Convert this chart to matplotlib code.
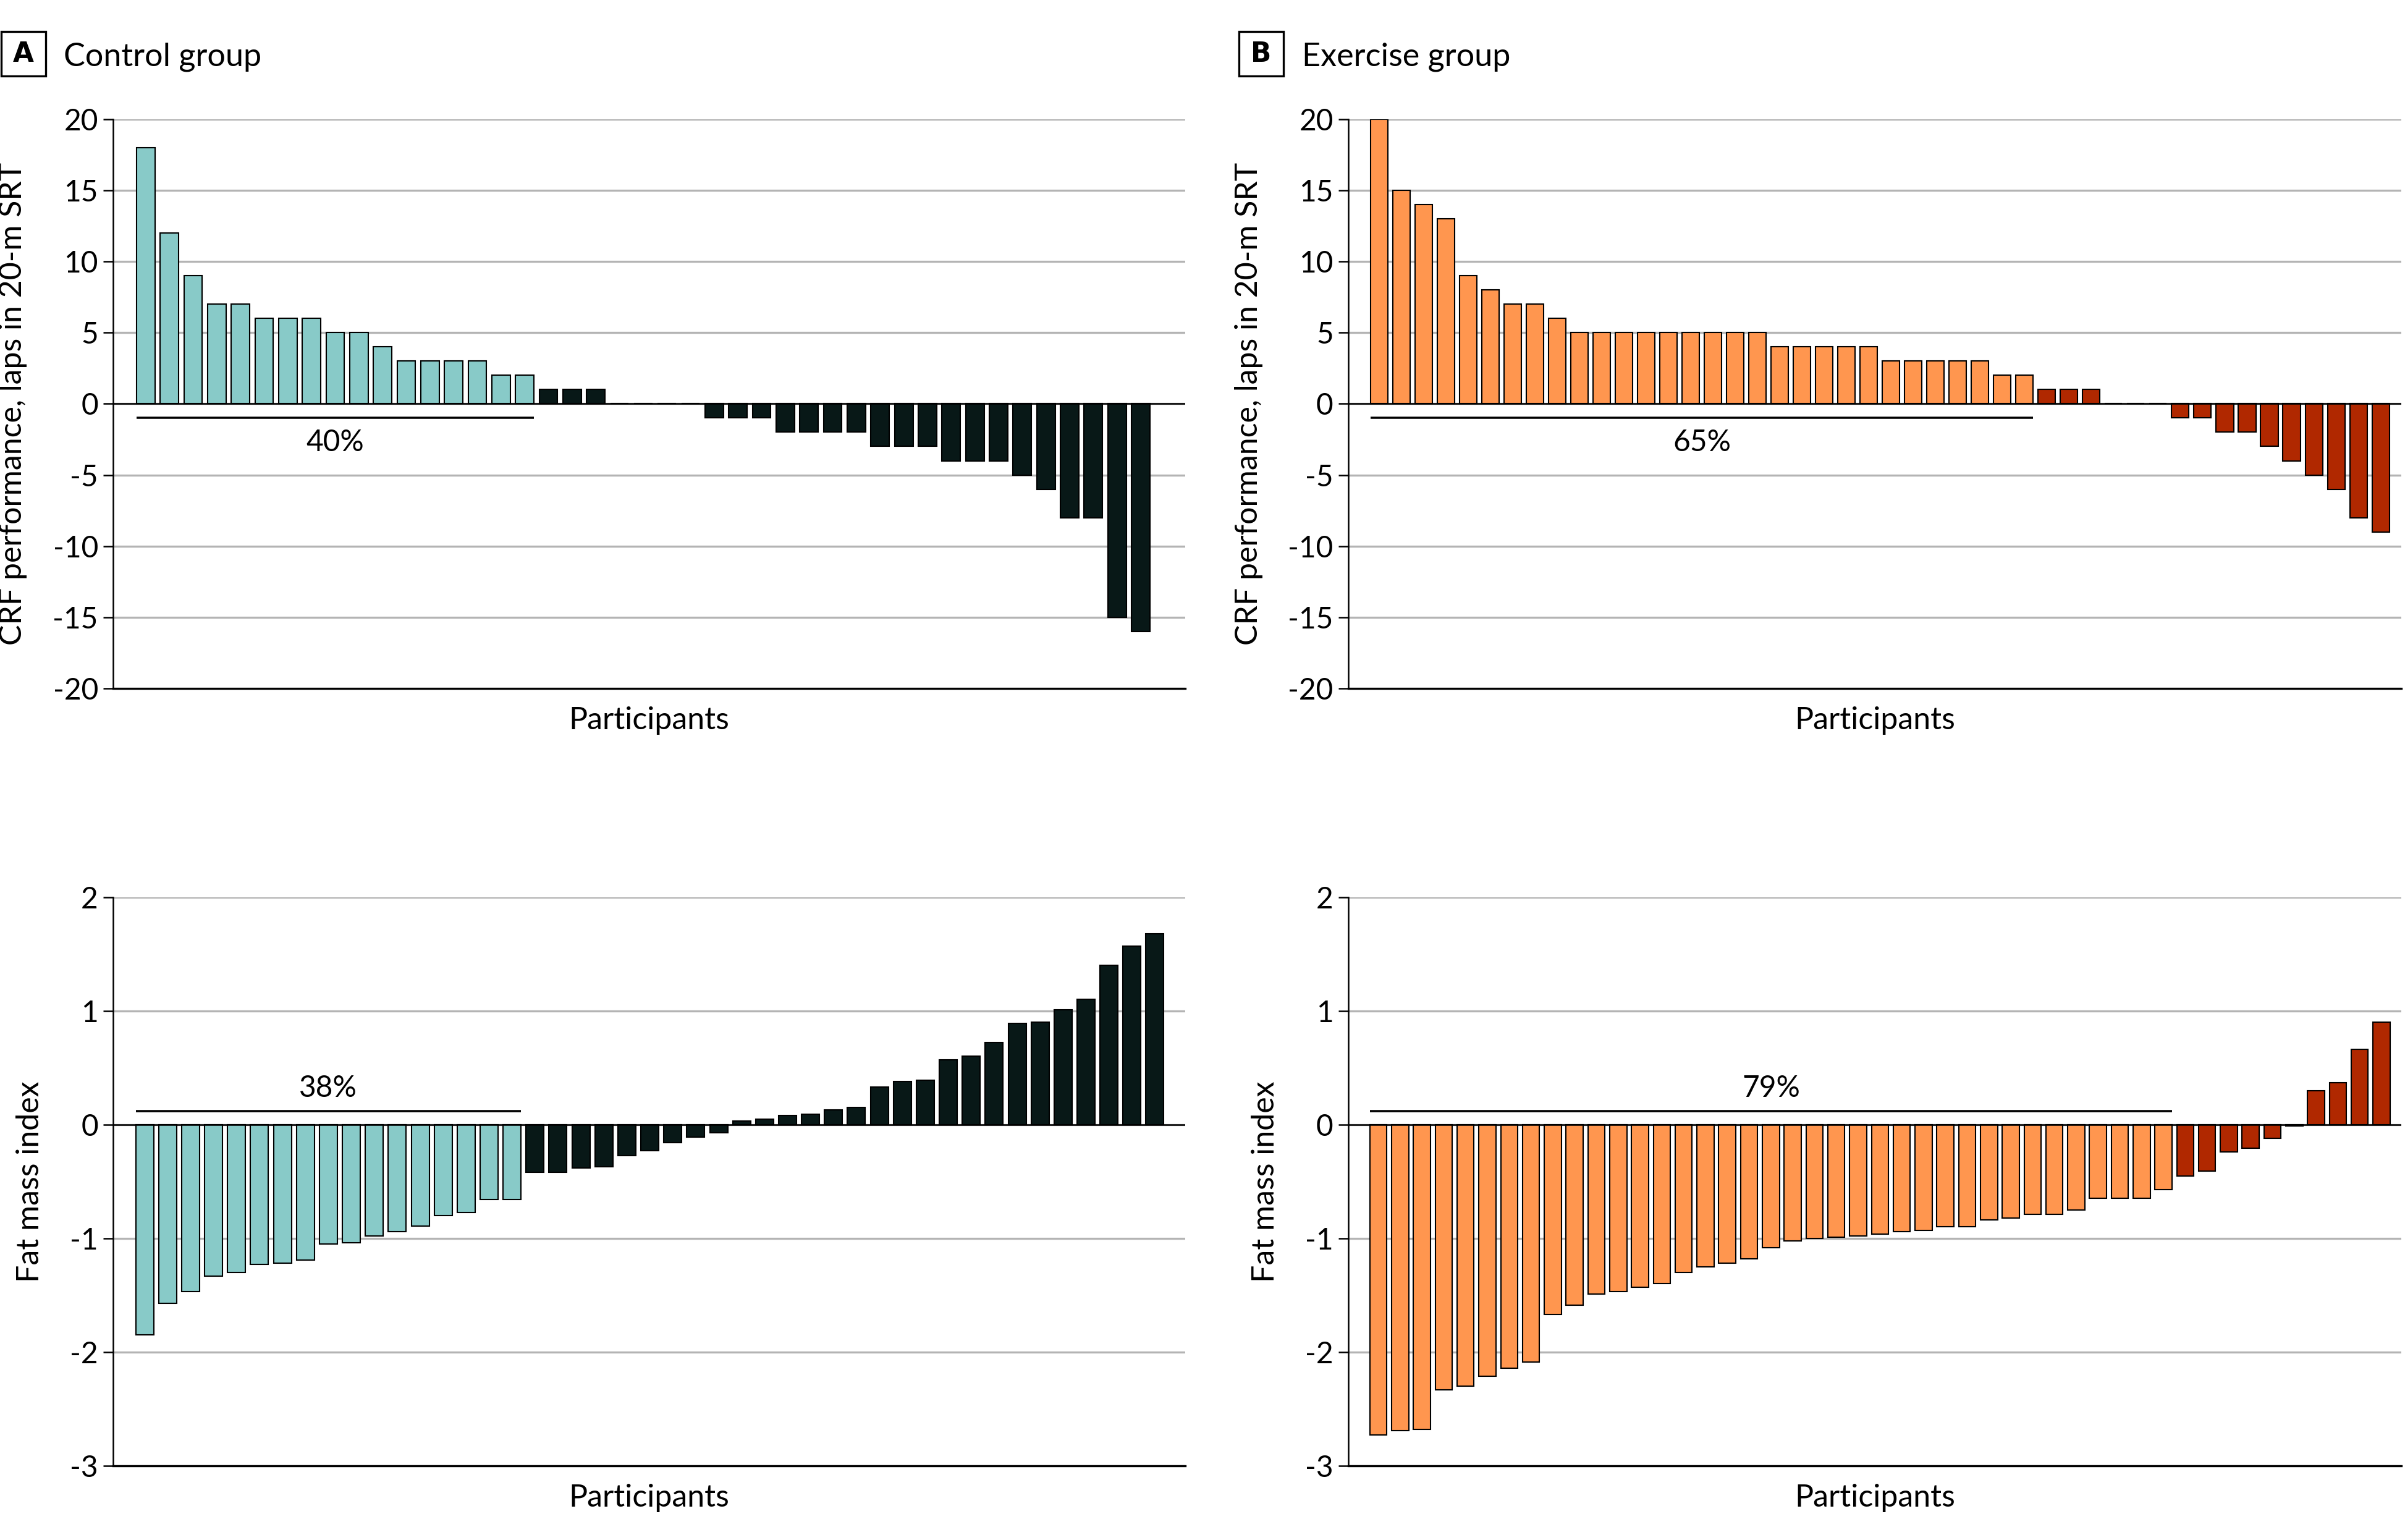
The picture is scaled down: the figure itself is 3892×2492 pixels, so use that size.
import matplotlib.pyplot as plt
from matplotlib.patches import Rectangle

plt.rcParams['font.family'] = ['Lato', 'DejaVu Sans']
plt.rcParams['axes.unicode_minus'] = False

# change in CRF (laps in 20-m SRT), one bar per participant, sorted
crf_control = [18, 12, 9, 7, 7, 6, 6, 6, 5, 5, 4, 3, 3, 3, 3, 2, 2,
               1, 1, 1, 0, 0, 0, 0,
               -1, -1, -1, -2, -2, -2, -2, -3, -3, -3, -4, -4, -4,
               -5, -6, -8, -8, -15, -16]
crf_exercise = [20, 15, 14, 13, 9, 8, 7, 7, 6, 5, 5, 5, 5, 5, 5, 5, 5, 5,
                4, 4, 4, 4, 4, 3, 3, 3, 3, 3, 2, 2,
                1, 1, 1, 0, 0, 0,
                -1, -1, -2, -2, -3, -4, -5, -6, -8, -9]

# change in fat mass index
fmi_control = [-1.85, -1.57, -1.47, -1.33, -1.30, -1.23, -1.22, -1.19, -1.05,
               -1.04, -0.98, -0.94, -0.89, -0.80, -0.77, -0.66, -0.66,
               -0.42, -0.42, -0.38, -0.37, -0.27, -0.23, -0.16, -0.11, -0.07,
               0.03, 0.05, 0.08, 0.09, 0.13, 0.15, 0.33, 0.38, 0.39, 0.57,
               0.60, 0.72, 0.89, 0.90, 1.01, 1.10, 1.40, 1.57, 1.68]
fmi_exercise = [-2.73, -2.69, -2.68, -2.33, -2.30, -2.21, -2.14, -2.09,
                -1.67, -1.59, -1.49, -1.47, -1.43, -1.40, -1.30, -1.25, -1.22,
                -1.18, -1.08, -1.02, -1.00, -0.99, -0.98, -0.96, -0.94, -0.93,
                -0.90, -0.90, -0.84, -0.82, -0.79, -0.79, -0.75, -0.65, -0.65,
                -0.65, -0.57,
                -0.45, -0.41, -0.24, -0.21, -0.12, -0.01, 0.30, 0.37, 0.66, 0.90]

# number of responders (highlighted bars) and their share
n_resp = {'crf_control': 17, 'crf_exercise': 30, 'fmi_control': 17, 'fmi_exercise': 37}
pct_labels = {'crf_control': '40%', 'crf_exercise': '65%',
              'fmi_control': '38%', 'fmi_exercise': '79%'}

light = ['#88CAC8', '#FF964F']
dark = ['#081817', '#B02800']

W, H = 3892, 2492
fig = plt.figure(figsize=(W / 300, H / 300), dpi=300)

panels = [
    # key, values, group, rect, ylim, yticks, ylabel, bracket y, right pad, ylabel x
    ('crf_control', crf_control, 0, [0.0470, 0.5530, 0.4458, 0.3696], (-20, 20),
     range(-20, 21, 5), 'CRF performance, laps in 20-m SRT', -1.0, 1.88, -0.080),
    ('crf_exercise', crf_exercise, 1, [0.5606, 0.5530, 0.4378, 0.3696], (-20, 20),
     range(-20, 21, 5), 'CRF performance, laps in 20-m SRT', -1.0, 0.92, -0.081),
    ('fmi_control', fmi_control, 0, [0.0470, 0.0482, 0.4458, 0.3692], (-3, 2),
     range(-3, 3), 'Fat mass index', 0.12, 1.32, -0.064),
    ('fmi_exercise', fmi_exercise, 1, [0.5606, 0.0482, 0.4378, 0.3692], (-3, 2),
     range(-3, 3), 'Fat mass index', 0.12, 0.9, -0.065),
]

for key, vals, grp, rect, ylim, yticks, ylabel, by, rpad, ylx in panels:
    ax = fig.add_axes(rect)
    n = len(vals)
    k = n_resp[key]
    x = list(range(n))
    colors = [light[grp]] * k + [dark[grp]] * (n - k)
    ax.bar(x, vals, width=0.78, color=colors, edgecolor='black', linewidth=0.5, zorder=3)
    ax.axhline(0, color='black', lw=0.6, zorder=4)

    ax.set_ylim(*ylim)
    ax.set_xlim(-1.38, n - 1 + rpad)
    ax.set_yticks(list(yticks))
    ax.set_xticks([])
    ax.yaxis.grid(True, color='#b4b4b4', lw=0.8)
    ax.set_axisbelow(True)
    for s in ['top', 'right']:
        ax.spines[s].set_visible(False)
    ax.spines['left'].set_linewidth(0.6)
    ax.spines['bottom'].set_linewidth(0.8)
    ax.tick_params(axis='y', direction='out', length=3.8, width=0.6, labelsize=11.5, pad=2)
    ax.set_ylabel(ylabel, fontsize=12)
    ax.yaxis.set_label_coords(ylx, 0.5)
    ax.set_xlabel('Participants', fontsize=12, labelpad=7)

    # bracket over responders
    ax.plot([-0.39, k - 1 + 0.39], [by, by], color='black', lw=0.85, zorder=4,
            solid_capstyle='butt')
    xm = (k - 1) / 2
    if by < 0:
        ax.text(xm, by - 0.75, pct_labels[key], ha='center', va='top', fontsize=11.5)
    else:
        ax.text(xm, by + 0.08, pct_labels[key], ha='center', va='bottom', fontsize=11.5)

# panel headings: boxed letter + group name (pixel positions)
for letter, title, bx, tx in [('A', 'Control group', 2, 103),
                              ('B', 'Exercise group', 2005, 2107)]:
    fig.add_artist(Rectangle((bx / W, 1 - 123 / H), 72 / W, 72 / H,
                             transform=fig.transFigure, fill=False,
                             ec='black', lw=0.8))
    fig.text((bx + 36) / W, 1 - 87 / H, letter, ha='center', va='center',
             fontsize=10.5, fontweight='bold', family='DejaVu Sans')
    fig.text(tx / W, 1 - 106 / H, title, ha='left', va='baseline', fontsize=12.5)

fig.savefig('out.png', dpi=300)
